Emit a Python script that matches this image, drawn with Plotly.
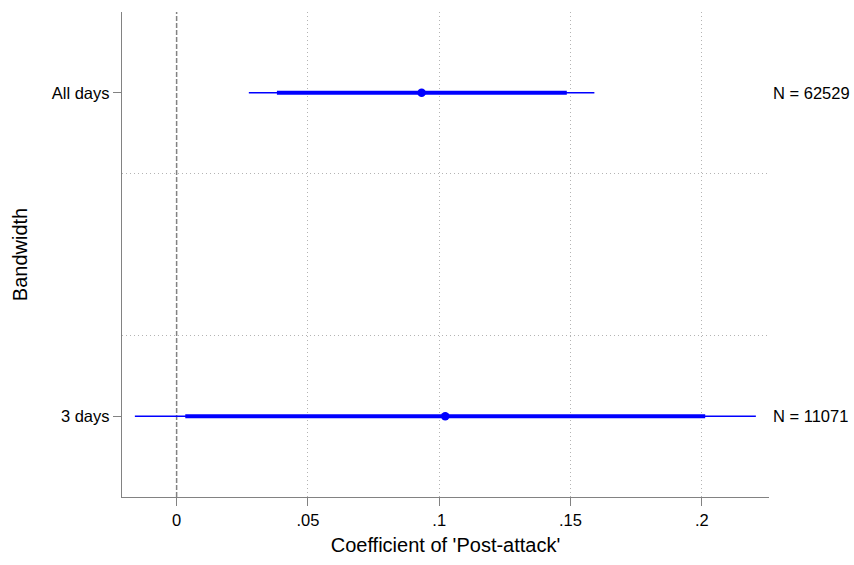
import plotly.graph_objects as go

# Data
categories = ["All days", "3 days"]
cat_pos = [1, 2]
coef = [0.0933, 0.1023]
ci95_lo = [0.0275, -0.0159]
ci95_hi = [0.1591, 0.2206]
ci90_lo = [0.0382, 0.0033]
ci90_hi = [0.1486, 0.2013]
n_obs = ["N = 62529", "N = 11071"]
x_ticks = [0, 0.05, 0.1, 0.15, 0.2]
x_ticktext = ["0", ".05", ".1", ".15", ".2"]
y_grid = [1.25, 1.75]

BLUE = "rgb(0,0,255)"
FONT = "Liberation Sans, Arial, Helvetica, sans-serif"
GRID = "rgb(180,180,180)"
AXIS = "rgb(130,130,130)"

fig = go.Figure()
for i in range(len(categories)):
    fig.add_trace(go.Scatter(x=[ci95_lo[i], ci95_hi[i]], y=[cat_pos[i], cat_pos[i]],
                             mode="lines", line=dict(color=BLUE, width=1.5),
                             showlegend=False, hoverinfo="skip"))
    fig.add_trace(go.Scatter(x=[ci90_lo[i], ci90_hi[i]], y=[cat_pos[i], cat_pos[i]],
                             mode="lines", line=dict(color=BLUE, width=4),
                             showlegend=False, hoverinfo="skip"))
fig.add_trace(go.Scatter(x=coef, y=cat_pos, mode="markers",
                         marker=dict(color=BLUE, size=8.5, symbol="circle"),
                         showlegend=False))

# zero reference line
fig.add_shape(type="line", xref="x", yref="y domain", x0=0, x1=0, y0=0, y1=1,
              line=dict(color="rgb(130,130,130)", width=1.5, dash="5px,2px"), layer="below")

for i in range(len(categories)):
    fig.add_annotation(x=1, xref="x domain", y=cat_pos[i], yref="y", text=n_obs[i],
                       showarrow=False, xanchor="left", xshift=2,
                       font=dict(size=16.5, color="black", family=FONT))

fig.update_layout(
    width=854, height=565,
    margin=dict(l=122, r=85, t=12, b=63),
    plot_bgcolor="white", paper_bgcolor="white",
    font=dict(family=FONT, size=16.5, color="black"),
    showlegend=False,
)
fig.update_xaxes(
    range=[-0.0208, 0.2256],
    tickvals=x_ticks, ticktext=x_ticktext,
    ticks="outside", ticklen=8, tickcolor=AXIS, tickwidth=1.2,
    showline=True, linecolor=AXIS, linewidth=1.3,
    showgrid=False, zeroline=False,
    minor=dict(tickvals=x_ticks[1:], showgrid=True, gridcolor=GRID,
               griddash="1px,3px", gridwidth=1, ticks=""),
    title=dict(text="Coefficient of 'Post-attack'", font=dict(size=20), standoff=10),
    tickfont=dict(size=16.5),
)
fig.update_yaxes(
    range=[2.25, 0.75],
    tickvals=cat_pos, ticktext=categories,
    ticks="outside", ticklen=8, tickcolor=AXIS, tickwidth=1.2,
    showline=True, linecolor=AXIS, linewidth=1.3,
    showgrid=False, zeroline=False,
    minor=dict(tickvals=y_grid, showgrid=True, gridcolor=GRID,
               griddash="1px,3px", gridwidth=1, ticks=""),
    title=dict(text="Bandwidth", font=dict(size=20), standoff=18),
    tickfont=dict(size=16.5),
)

fig.write_html("out.html", config={"displayModeBar": False},
               post_script="document.body.style.margin='0';document.body.style.overflow='hidden';")
